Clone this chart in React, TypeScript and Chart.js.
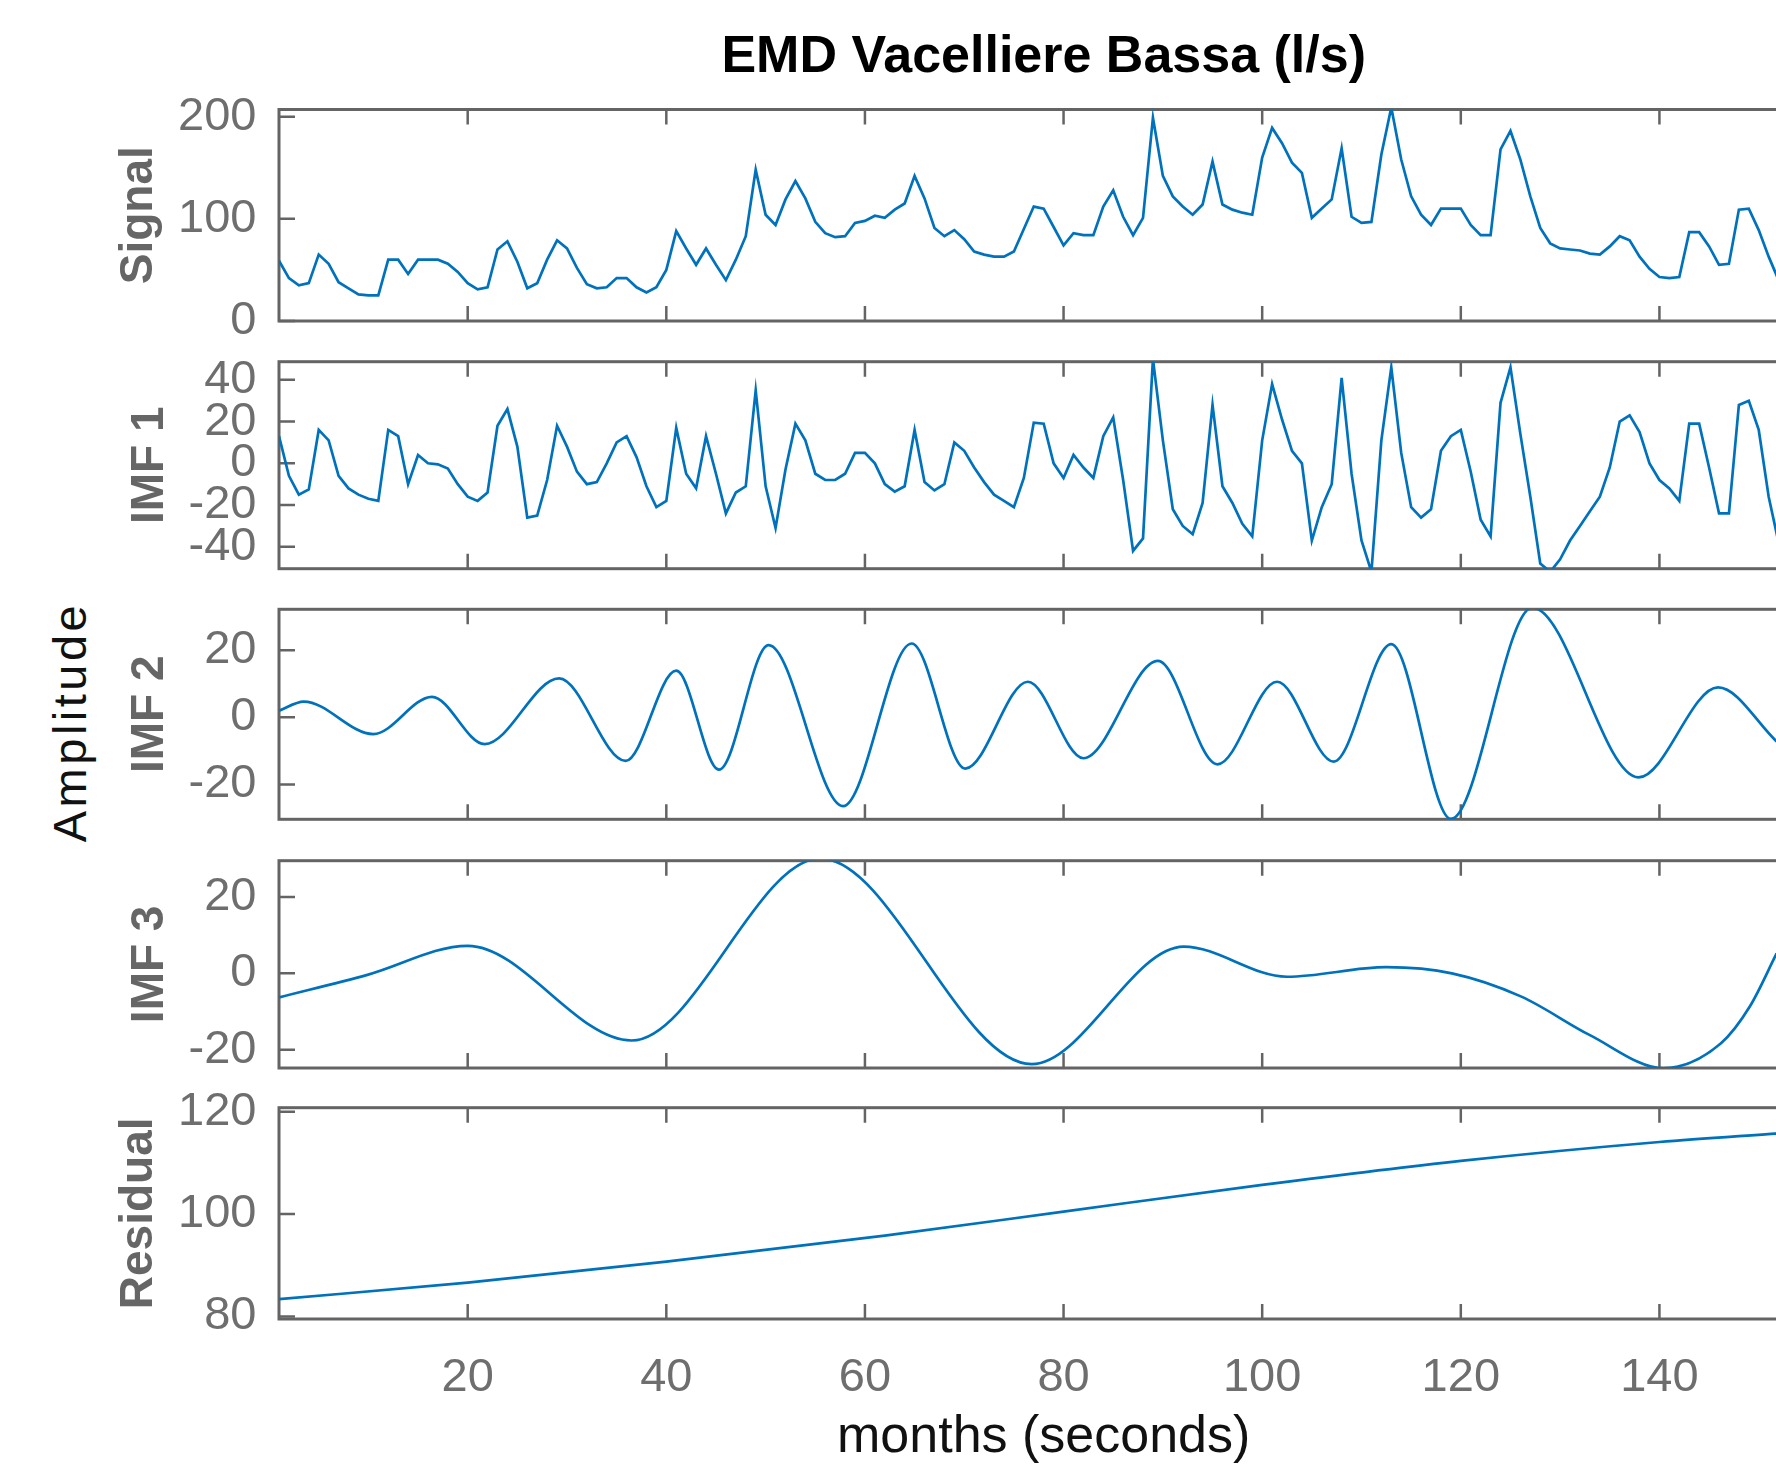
import React, { useEffect, useRef } from 'react';
import { Chart, registerables } from 'chart.js';

Chart.register(...registerables);

// ---------------- data ----------------
const months = Array.from({ length: 152 }, (_, i) => i + 1);

const signalValues = [
  59, 42, 35, 37, 65, 56, 38, 32, 26, 25,
  25, 60, 60, 46, 60, 60, 60, 56, 48, 37,
  31, 33, 70, 78, 58, 32, 37, 60, 79, 71,
  52, 36, 32, 33, 42, 42, 33, 28, 33, 50,
  88, 71, 55, 71, 55, 40, 60, 83, 148, 104,
  94, 119, 137, 120, 97, 86, 82, 83, 96, 98,
  103, 101, 109, 115, 142, 120, 91, 83, 89, 80,
  68, 65, 63, 63, 68, 90, 112, 110, 92, 74,
  86, 84, 84, 112, 128, 102, 84, 101, 199, 142,
  122, 112, 104, 114, 156, 114, 109, 106, 104, 160,
  189, 174, 155, 145, 101, 110, 119, 169, 102, 96,
  97, 163, 209, 158, 122, 104, 94, 110, 110, 110,
  94, 84, 84, 168, 186, 158, 122, 91, 76, 71,
  70, 69, 66, 65, 73, 83, 79, 63, 51, 43,
  42, 43, 87, 87, 73, 55, 56, 109, 110, 89,
  63, 40,
];

const imf1Values = [
  13, -6, -15, -12.5, 16, 11, -6, -12, -15, -17,
  -18, 16, 13, -10, 4, 0, -0.5, -2.5, -10, -16,
  -18, -14, 18, 26, 8, -26, -25, -8, 18, 8,
  -4, -10, -9, 0, 10, 13, 3, -11, -21, -18,
  17, -5, -12, 13, -5, -24, -14, -11, 35, -11,
  -31, -3, 19, 11, -5, -8, -8, -5, 5, 5,
  0, -10, -13.6, -11, 16, -9, -13, -10, 10, 6,
  -2, -9, -15, -18, -21, -7, 19.5, 19, 0, -7,
  4, -2, -7, 13, 22, -8, -42, -36, 50, 11,
  -22, -30, -34, -19, 28, -11, -19, -29, -35, 11,
  38, 21, 6, 0, -37, -21, -10, 41, -5, -37,
  -52, 11, 46, 5, -21, -26, -22, 6, 13, 16,
  -4, -27, -35, 29, 46, 14, -16, -48, -52, -46,
  -37, -30, -23, -16, -2, 20, 23, 15, 0, -8,
  -12, -18, 19, 19, -2, -24, -24, 28, 30, 16,
  -16, -38,
];

// smooth components: read at extrema / turning positions (month, value)
const imf2Months = [1, 3.5, 10.5, 16.4, 21.7, 29.2, 35.9, 41, 45.3, 50.3, 57.8, 64.7, 70.1, 76.4, 82, 89.5, 95.5, 101.5, 107.2, 113, 119, 127.2, 137.9, 145.9, 151.8];
const imf2Values = [2, 4.7, -5, 6.1, -8, 11.6, -13, 13.9, -15.6, 21.5, -26.5, 22, -15.3, 10.6, -12.2, 16.8, -14, 10.6, -13.2, 21.8, -30.3, 32.7, -17.9, 8.9, -7.2];

const imf3Months = [1, 9.9, 20, 36.5, 55.5, 76.8, 92.1, 102.5, 112.5, 119.1, 126.1, 133, 140.4, 146.2, 149.1, 151.8];
const imf3Values = [-6.3, -0.4, 7.2, -17.6, 30.1, -23.8, 7.0, -0.9, 1.6, 0, -6.1, -16.2, -24.9, -18.3, -8.7, 5.2];

const residualMonths = [1, 20, 40, 62, 80, 100, 120, 140, 152];
const residualValues = [83.4, 86.6, 90.7, 95.8, 100.5, 105.7, 110.4, 114.1, 115.8];

// tick labels
const xTickValues = [20, 40, 60, 80, 100, 120, 140];
const signalTicks = [0, 100, 200];
const imf1Ticks = [-40, -20, 0, 20, 40];
const imf2Ticks = [-20, 0, 20];
const imf3Ticks = [-20, 0, 20];
const residualTicks = [80, 100, 120];

const chartTitle = 'EMD Vacelliere Bassa (l/s)';
const xAxisTitle = 'months (seconds)';
const yAxisTitle = 'Amplitude';

// ---------------- layout / style ----------------
const FONT = "'Liberation Sans', Arial, Helvetica, sans-serif";
const PAGE_W = 1776;
const PAGE_H = 1471;
const CANVAS_W = 1840;
const PLOT_LEFT = 279;
const PLOT_RIGHT = 1808.4;
const Y_AXIS_W = 200;
const X_MIN = 1;
const X_MAX = 155;
const MARGIN = 70;
const LINE_COLOR = '#0072BD';
const AXIS_COLOR = '#646464';
const TICK_TEXT = '#6e6e6e';

type PanelCfg = {
  label: string;
  top: number;
  bottom: number;
  ymin: number;
  ymax: number;
  yTicks: number[];
  titleCenter: number;
  xs: number[];
  ys: number[];
  smooth: boolean;
  last?: boolean;
};

const panels: PanelCfg[] = [
  { label: 'Signal', top: 109.5, bottom: 321, ymin: 0, ymax: 207, yTicks: signalTicks, titleCenter: 139, xs: months, ys: signalValues, smooth: false },
  { label: 'IMF 1', top: 361.7, bottom: 568.7, ymin: -50.5, ymax: 48.7, yTicks: imf1Ticks, titleCenter: 150.5, xs: months, ys: imf1Values, smooth: false },
  { label: 'IMF 2', top: 609.3, bottom: 819.3, ymin: -30.4, ymax: 32.2, yTicks: imf2Ticks, titleCenter: 150.5, xs: imf2Months, ys: imf2Values, smooth: true },
  { label: 'IMF 3', top: 860.7, bottom: 1068, ymin: -24.8, ymax: 29.5, yTicks: imf3Ticks, titleCenter: 150.5, xs: imf3Months, ys: imf3Values, smooth: true },
  { label: 'Residual', top: 1107.7, bottom: 1319, ymin: 79.5, ymax: 120.8, yTicks: residualTicks, titleCenter: 139, xs: residualMonths, ys: residualValues, smooth: true, last: true },
];

const framePlugin = {
  id: 'matlabFrame',
  beforeDatasetsDraw(chart: any, _args: any, opts: any) {
    const { ctx, chartArea, scales } = chart;
    const { left, right, top, bottom } = chartArea;
    ctx.save();
    ctx.strokeStyle = AXIS_COLOR;
    ctx.lineWidth = 2.5;
    ctx.beginPath();
    for (const v of opts.xTicks as number[]) {
      const px = scales.x.getPixelForValue(v);
      ctx.moveTo(px, top);
      ctx.lineTo(px, top + 15);
      ctx.moveTo(px, bottom);
      ctx.lineTo(px, bottom - 15);
    }
    for (const v of opts.yTicks as number[]) {
      const py = scales.y.getPixelForValue(v);
      ctx.moveTo(left, py);
      ctx.lineTo(left + 16, py);
      ctx.moveTo(right, py);
      ctx.lineTo(right - 16, py);
    }
    ctx.stroke();
    ctx.lineWidth = 3;
    ctx.strokeRect(left, top, right - left, bottom - top);
    ctx.restore();
  },
};

function Panel({ cfg }: { cfg: PanelCfg }) {
  const ref = useRef<HTMLCanvasElement | null>(null);
  const canvasTop = Math.floor(cfg.top) - MARGIN;
  const padTop = cfg.top - canvasTop;
  const canvasBottom = cfg.last ? PAGE_H : Math.ceil(cfg.bottom) + MARGIN;
  const canvasH = canvasBottom - canvasTop;
  const xAxisH = cfg.last ? canvasBottom - cfg.bottom : 0;
  const padBottom = cfg.last ? 0 : canvasBottom - cfg.bottom;

  useEffect(() => {
    if (!ref.current) return;
    const chart = new Chart(ref.current, {
      type: 'line',
      data: {
        datasets: [
          {
            data: cfg.xs.map((x, i) => ({ x, y: cfg.ys[i] })),
            borderColor: LINE_COLOR,
            backgroundColor: LINE_COLOR,
            borderWidth: 2.7,
            pointRadius: 0,
            fill: false,
            tension: cfg.smooth ? 0.4 : 0,
            cubicInterpolationMode: cfg.smooth ? 'monotone' : 'default',
          },
        ],
      },
      options: {
        animation: false,
        responsive: false,
        devicePixelRatio: 1,
        events: [],
        layout: {
          padding: {
            left: PLOT_LEFT - Y_AXIS_W,
            right: CANVAS_W - PLOT_RIGHT,
            top: padTop,
            bottom: padBottom,
          },
        },
        plugins: {
          legend: { display: false },
          tooltip: { enabled: false },
          title: { display: false },
          matlabFrame: { xTicks: xTickValues, yTicks: cfg.yTicks },
        } as any,
        scales: {
          x: {
            type: 'linear',
            min: X_MIN,
            max: X_MAX,
            display: !!cfg.last,
            afterBuildTicks: (s: any) => {
              s.ticks = xTickValues.map((v) => ({ value: v }));
            },
            afterFit: (s: any) => {
              s.height = xAxisH;
            },
            grid: { display: false, drawTicks: false },
            border: { display: false },
            ticks: {
              color: TICK_TEXT,
              font: { family: FONT, size: 47 },
              padding: 31,
              maxRotation: 0,
              autoSkip: false,
            },
            title: {
              display: !!cfg.last,
              text: xAxisTitle,
              color: '#111',
              font: { family: FONT, size: 52 },
              padding: { top: 0, bottom: 2 },
            },
          },
          y: {
            type: 'linear',
            min: cfg.ymin,
            max: cfg.ymax,
            afterBuildTicks: (s: any) => {
              s.ticks = cfg.yTicks.map((v) => ({ value: v }));
            },
            afterFit: (s: any) => {
              s.width = Y_AXIS_W;
            },
            grid: { display: false, drawTicks: false },
            border: { display: false },
            ticks: {
              color: TICK_TEXT,
              font: { family: FONT, size: 47 },
              padding: 22.5,
              autoSkip: false,
            },
            title: {
              display: true,
              text: cfg.label,
              color: '#666',
              font: { family: FONT, size: 46, weight: 'bold' },
              padding: { top: cfg.titleCenter - (PLOT_LEFT - Y_AXIS_W) - 27.6, bottom: 0 },
            },
          },
        },
      } as any,
      plugins: [framePlugin],
    });
    return () => chart.destroy();
  }, []);

  return (
    <canvas
      ref={ref}
      width={CANVAS_W}
      height={canvasH}
      style={{ position: 'absolute', left: 0, top: canvasTop, width: CANVAS_W, height: canvasH, display: 'block' }}
    />
  );
}

export default function App() {
  const ampSize = 47;
  return (
    <div
      style={{
        position: 'absolute',
        left: 0,
        top: 0,
        width: PAGE_W,
        height: PAGE_H,
        overflow: 'hidden',
        background: '#ffffff',
      }}
    >
      <div
        style={{
          position: 'absolute',
          left: PLOT_LEFT,
          width: PLOT_RIGHT - PLOT_LEFT,
          top: 23.7,
          textAlign: 'center',
          fontFamily: FONT,
          fontWeight: 'bold',
          fontSize: 52,
          lineHeight: '60px',
          color: '#000',
          whiteSpace: 'nowrap',
        }}
      >
        {chartTitle}
      </div>
      <div
        style={{
          position: 'absolute',
          left: 70,
          top: 722,
          transform: 'translate(-50%, -50%) rotate(-90deg)',
          fontFamily: FONT,
          fontSize: ampSize,
          lineHeight: `${(ampSize * 1.117).toFixed(1)}px`,
          letterSpacing: '3.5px',
          color: '#111',
          whiteSpace: 'nowrap',
        }}
      >
        {yAxisTitle}
      </div>
      {panels.map((p) => (
        <Panel key={p.label} cfg={p} />
      ))}
    </div>
  );
}
